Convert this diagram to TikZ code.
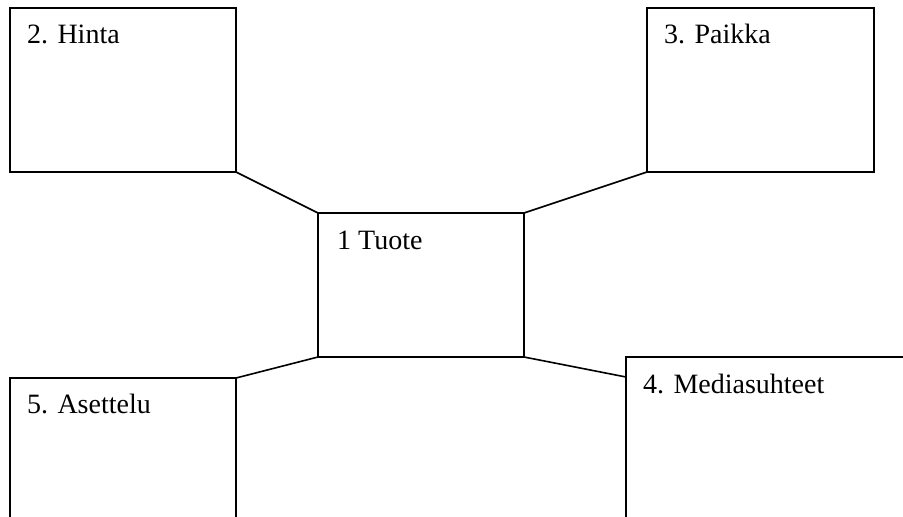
\documentclass[tikz,border=0pt]{standalone}
\usepackage{fontspec}
\setmainfont{Liberation Serif}
\usetikzlibrary{calc}
\begin{document}
\begin{tikzpicture}[x=1pt,y=-1pt,
  box/.style={draw=black,line width=1.6pt,inner sep=0pt,outer sep=0pt,anchor=north west,fill=none},
  lbl/.style={anchor=base west,inner sep=0pt,font=\fontsize{28}{34}\selectfont},
  conn/.style={draw=black,line width=1.6pt,line cap=round}]
\useasboundingbox (0,0) rectangle (903,517);
\clip (0,0) rectangle (903,517);
\node[box,minimum width=226pt,minimum height=164pt] (b2) at (10,8) {};
\node[box,minimum width=227pt,minimum height=164pt] (b3) at (647,8) {};
\node[box,minimum width=206pt,minimum height=144pt] (b1) at (318,213) {};
\node[box,minimum width=226pt,minimum height=200pt] (b5) at (10,378) {};
\node[box,minimum width=320pt,minimum height=200pt] (b4) at (626,357) {};
\node[lbl] (t2) at (27,43) {2. Hinta};
\node[lbl] (t3) at (664,43) {3. Paikka};
\node[lbl] (t1) at (337,249) {1 Tuote};
\node[lbl] (t5) at (27,413) {5. Asettelu};
\node[lbl] (t4) at (643,393) {4. Mediasuhteet};
\coordinate (c4) at ($(b4.north west)+(0,20)$);
\draw[conn] (b2.south east) -- (b1.north west);
\draw[conn] (b3.south west) -- (b1.north east);
\draw[conn] (b1.south west) -- (b5.north east);
\draw[conn] (b1.south east) -- (c4);
\end{tikzpicture}
\end{document}
